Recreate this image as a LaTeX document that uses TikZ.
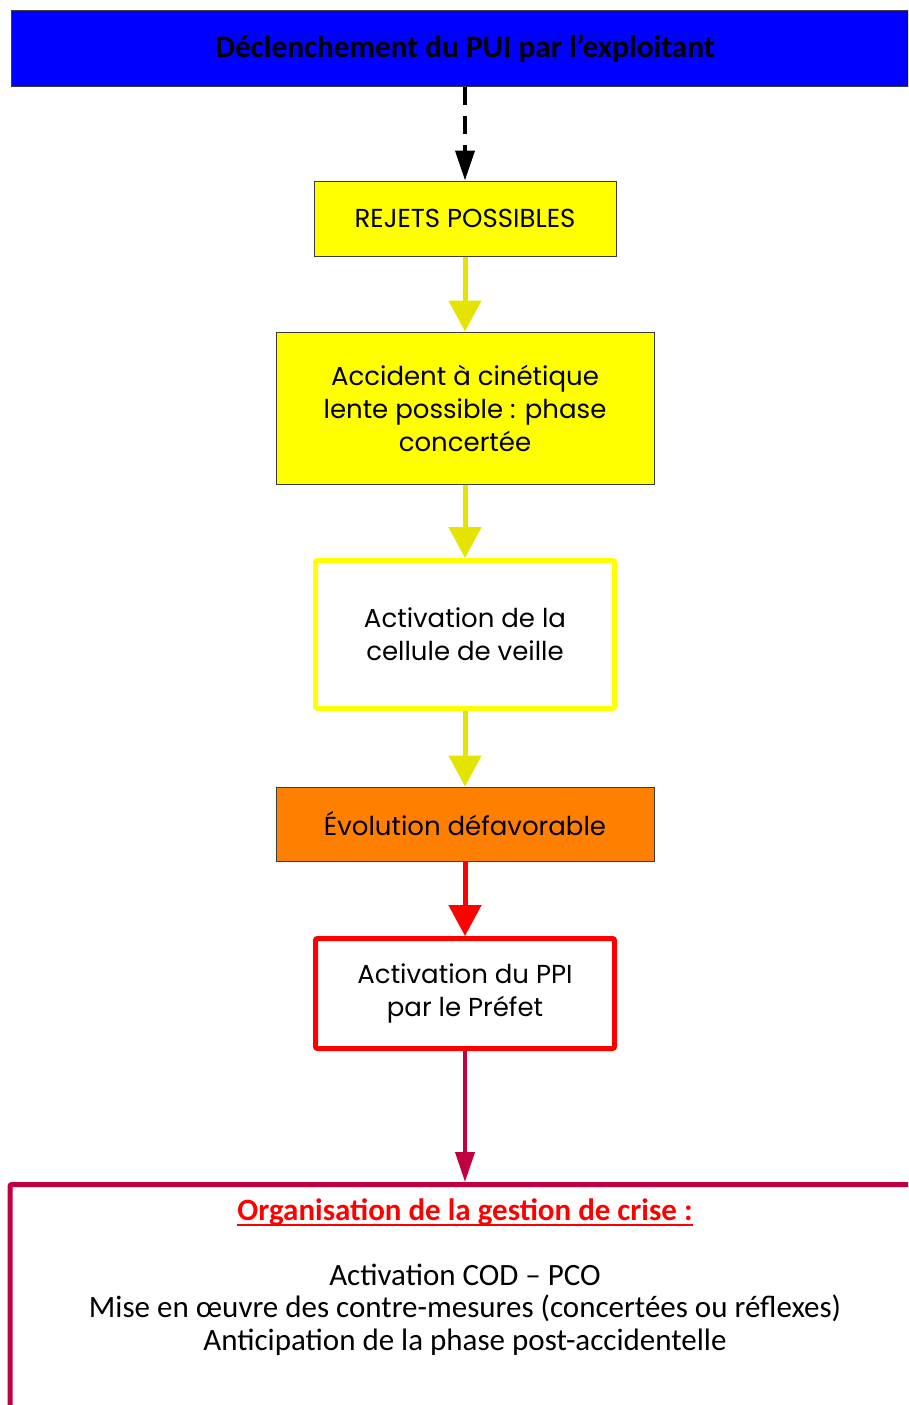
\documentclass[tikz,border=0pt]{standalone}
\usepackage{fontspec}
\setmainfont{Poppins}
\newfontfamily\calibrifont{Carlito}
\usetikzlibrary{arrows.meta}

% underline drawn as a rule below the text, in the current colour
\newsavebox\ulbox
\newcommand\thickul[1]{\sbox\ulbox{#1}\makebox[0pt][l]{\rule[-5.5pt]{\wd\ulbox}{1.8pt}}\usebox\ulbox}

\definecolor{barblue}{RGB}{0,0,255}
\definecolor{boxyellow}{RGB}{255,255,0}
\definecolor{flowyellow}{RGB}{228,228,0}
\definecolor{boxorange}{RGB}{255,128,0}
\definecolor{alertred}{RGB}{255,0,0}
\definecolor{crimson}{RGB}{192,0,64}
\definecolor{edgegray}{RGB}{60,60,60}

\tikzset{
  boxtext/.style={font=\fontsize{26}{33}\selectfont, align=center, text=black},
  filledbox/.style={draw=edgegray, line width=1pt, boxtext, inner sep=0pt},
  framedbox/.style={fill=white, line width=5pt, rounded corners=2pt, boxtext, inner sep=0pt},
  flow/.style={line width=5pt, -{Triangle[width=32pt,length=31pt]}},
  thinflow/.style={line width=4pt, -{Triangle[width=19pt,length=30pt]}},
}

\begin{document}
\begin{tikzpicture}[x=1pt,y=-1pt]
  \useasboundingbox (0,0) rectangle (908,1405);
  \clip (0,0) rectangle (908,1405);

  % trigger banner (runs past the right edge)
  \node[draw=edgegray, line width=1pt, fill=barblue, minimum width=908pt, minimum height=75pt,
        font=\calibrifont\bfseries\fontsize{31.3}{34}\selectfont, text=black]
        (pui) at (465,48.5) {\raisebox{-2pt}{Déclenchement du PUI par l’exploitant}};

  \node[filledbox, fill=boxyellow, minimum width=302pt, minimum height=75pt]
        (rejets) at (465,218.5) {REJETS POSSIBLES};

  \node[filledbox, fill=boxyellow, minimum width=378pt, minimum height=152pt]
        (accident) at (465,408) {Accident à cinétique\\lente possible : phase\\concertée};

  \node[framedbox, draw=boxyellow, minimum width=299pt, minimum height=148pt]
        (veille) at (465,634.5) {Activation de la\\cellule de veille};

  \node[filledbox, fill=boxorange, minimum width=378pt, minimum height=74pt]
        (evolution) at (465,824) {Évolution défavorable};

  \node[framedbox, draw=alertred, minimum width=299pt, minimum height=110pt]
        (ppi) at (465,993.5) {Activation du PPI\\par le Préfet};

  % crisis management frame (runs past the right and bottom edges)
  \node[draw=crimson, fill=white, line width=5pt, rounded corners=2pt,
        minimum width=910pt, minimum height=240pt, inner sep=0pt]
        (crise) at (465,1304.5) {};
  \node[font=\calibrifont\fontsize{31}{32.5}\selectfont, align=center, text=black]
        (crisetext) at (465,1277)
        {{\bfseries\color{alertred}\thickul{Organisation de la gestion de crise :}}\\
         \mbox{}\\
         Activation COD – PCO\\
         Mise en œuvre des contre-mesures (concertées ou réflexes)\\
         Anticipation de la phase post-accidentelle};

  % connectors
  \draw[thinflow, black, dash pattern=on 18pt off 11pt] (pui.south) -- (rejets.north);
  \draw[flow, flowyellow] (rejets.south) -- (accident.north);
  \draw[flow, flowyellow] (accident.south) -- (veille.north);
  \draw[flow, flowyellow] (veille.south) -- (evolution.north);
  \draw[flow, alertred] (evolution.south) -- (ppi.north);
  \draw[thinflow, crimson] (ppi.south) -- (crise.north);
\end{tikzpicture}
\end{document}
